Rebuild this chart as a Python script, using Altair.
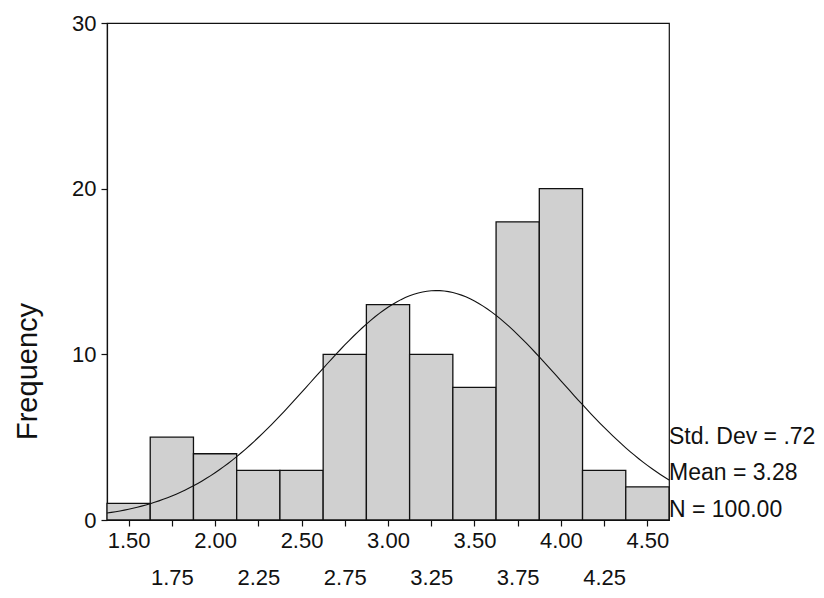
import altair as alt
import pandas as pd

# ---- data ----
bin_mid = [1.50, 1.75, 2.00, 2.25, 2.50, 2.75, 3.00, 3.25, 3.50, 3.75, 4.00, 4.25, 4.50]
freq = [1, 5, 4, 3, 3, 10, 13, 10, 8, 18, 20, 3, 2]
tick_values = [1.50, 1.75, 2.00, 2.25, 2.50, 2.75, 3.00, 3.25, 3.50, 3.75, 4.00, 4.25, 4.50]
second_row = [1.75, 2.25, 2.75, 3.25, 3.75, 4.25]
y_ticks = [0, 10, 20, 30]
stats_lines = ["Std. Dev = .72", "Mean = 3.28", "N = 100.00"]
MEAN, SD, N, BW = 3.28, 0.72, 100, 0.25

W, H = 562, 497
FONT = "Liberation Sans"
LBL = 22
XDOM = [1.375, 4.625]

xscale = alt.Scale(domain=XDOM, nice=False, zero=False)
yscale = alt.Scale(domain=[0, 30], nice=False, zero=True)

hist = pd.DataFrame({"mid": bin_mid, "freq": freq})

bars = alt.Chart(hist).transform_calculate(
    lo=f"datum.mid - {BW / 2}", hi=f"datum.mid + {BW / 2}"
).mark_bar(fill="#d0d0d0", stroke="#111111", strokeWidth=1.3).encode(
    x=alt.X("lo:Q", scale=xscale, axis=alt.Axis(
        values=tick_values, orient="bottom", title=None, grid=False,
        labelExpr="(round(datum.value*4) % 2 == 0) ? format(datum.value, '.2f') : ''",
        tickSize=6, labelPadding=14, labelBaseline="middle", labelFlush=False,
        labelOverlap=False, labelFontSize=LBL, labelFont=FONT)),
    x2="hi:Q",
    y=alt.Y("freq:Q", scale=yscale, axis=alt.Axis(
        values=y_ticks, title="Frequency", grid=False, tickSize=6, labelPadding=5,
        orient="left", labelFontSize=LBL, labelFont=FONT,
        titleAngle=270, titleX=-71, titleY=348, titleAlign="center",
        titleBaseline="alphabetic", titleFontSize=29, titleFontWeight="normal")),
    y2=alt.datum(0),
)

curve = alt.Chart(alt.sequence(XDOM[0], XDOM[1] + 0.0001, 0.025, as_="x")).transform_calculate(
    y=f"{N * BW} / ({SD} * sqrt(2 * PI)) * exp(-0.5 * pow((datum.x - {MEAN}) / {SD}, 2))"
).mark_line(color="#111111", strokeWidth=1.1).encode(
    x=alt.X("x:Q", scale=xscale, axis=None),
    y=alt.Y("y:Q", scale=yscale, axis=None),
)

second = alt.Chart(pd.DataFrame({"v": second_row})).mark_point(opacity=0, size=1).encode(
    x=alt.X("v:Q", scale=xscale, axis=alt.Axis(
        values=second_row, orient="bottom", title=None, grid=False, ticks=False,
        domain=False, tickSize=0, labelPadding=57, labelBaseline="middle",
        labelFlush=False, labelOverlap=False, format=".2f",
        labelFontSize=LBL, labelFont=FONT)),
    y=alt.value(0),
)

stats_df = pd.DataFrame({"line": stats_lines})
stat_layers = []
for i, yy in enumerate([414, 450, 487]):
    stat_layers.append(
        alt.Chart(stats_df.iloc[[i]]).mark_text(
            align="left", baseline="middle", font=FONT, fontSize=23, color="#111111"
        ).encode(text="line:N", x=alt.value(562), y=alt.value(yy))
    )

chart = alt.layer(bars, curve, second, *stat_layers).resolve_axis(
    x="independent", y="independent"
).properties(
    width=W, height=H,
    autosize=alt.AutoSizeParams(type="none"),
    padding={"left": 99, "top": 15, "right": 146, "bottom": 70},
).configure_view(
    stroke="#111111", strokeWidth=1.2
).configure_axis(
    labelFont=FONT, titleFont=FONT, labelFontSize=LBL, labelColor="#111111",
    titleColor="#111111", domainColor="#111111", tickColor="#111111",
    domainWidth=1.2, tickWidth=1.2
)

chart.save("out.html", embed_options={"renderer": "svg", "actions": False})
